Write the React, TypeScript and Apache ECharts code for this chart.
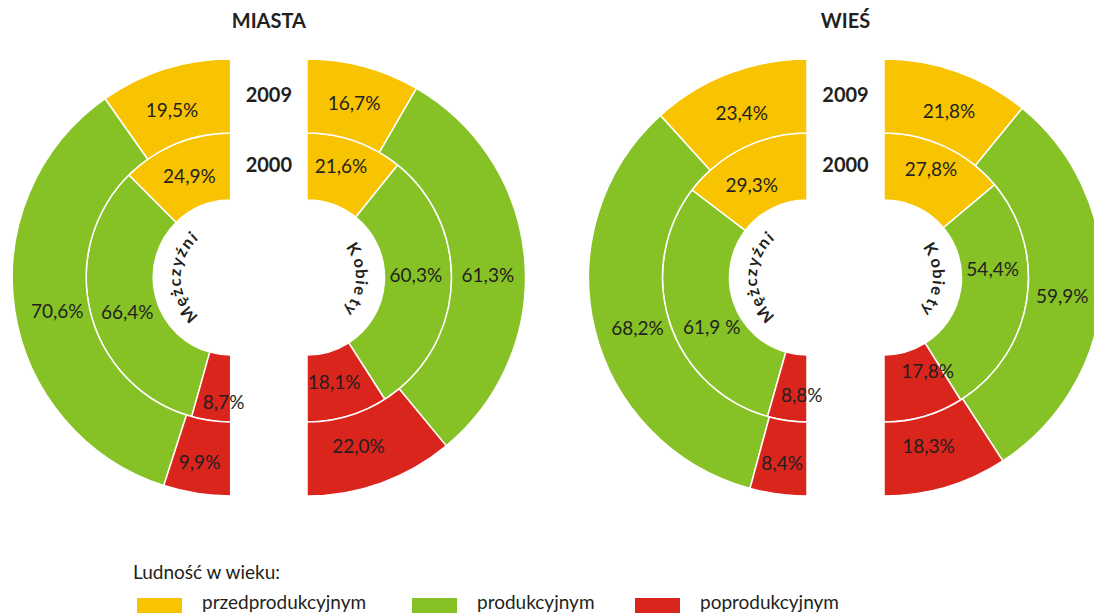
import React, { useEffect, useRef } from "react";
import * as echarts from "echarts";

// ---- data ----
const categories = ["przedprodukcyjnym", "produkcyjnym", "poprodukcyjnym"];
const panelTitles = ["MIASTA", "WIEŚ"];
const yearLabels = ["2009", "2000"];
const sexLabels = ["Mężczyźni", "Kobiety"];
const legendTitle = "Ludność w wieku:";

// MIASTA
const miastaMen2009 = [19.5, 70.6, 9.9];
const miastaMen2000 = [24.9, 66.4, 8.7];
const miastaWomen2009 = [16.7, 61.3, 22.0];
const miastaWomen2000 = [21.6, 60.3, 18.1];
// WIEŚ
const wiesMen2009 = [23.4, 68.2, 8.4];
const wiesMen2000 = [29.3, 61.9, 8.8];
const wiesWomen2009 = [21.8, 59.9, 18.3];
const wiesWomen2000 = [27.8, 54.4, 17.8];
// label text as printed (one label carries a space before %)
const wiesMen2000Labels = ["29,3%", "61,9 %", "8,8%"];

// ---- style / layout ----
const colors = ["#F8C300", "#86C226", "#DA251D"];
const textColor = "#231F20";
const FONT = "Lato, 'Open Sans', sans-serif";
const CY = 277.5;
const R_HOLE = 77.5;
const R_MID = 144.5;
const R_OUT = 218.5;
const panels = [
  { menX: 230.7, womenX: 307 },
  { menX: 807, womenX: 884 },
];
// manual label nudges [dx, dy] (the source places some labels off-centre)
const nudges = {
  miasta: {
    men2000: [[1, 1], [4, 6], [8, 14]],
    men2009: [[-4, 5], [6, 6], [-3, 5]],
    women2000: [[-3, -7], [-2, -9], [-4, -3]],
    women2009: [[0, 0], [0, 12], [-10, -3]],
  },
  wies: {
    men2000: [[-6, 6], [10, 14], [10, 7]],
    men2009: [[0, 4], [7, 8], [-1, 5]],
    women2000: [[0, -8], [-1, -26], [13, -14]],
    women2009: [[4, 4], [-3, 8], [-7, -6]],
  },
};

const fmt = (v: number) => v.toFixed(1).replace(".", ",") + "%";

function half(values: number[], cx: number, clockwise: boolean, inner: number, outer: number) {
  const sum = values.reduce((a, b) => a + b, 0);
  return {
    type: "pie",
    z: 1,
    center: [cx, CY],
    radius: [inner, outer],
    startAngle: 90,
    clockwise,
    silent: true,
    avoidLabelOverlap: false,
    animation: false,
    label: { show: false },
    labelLine: { show: false },
    emphasis: { disabled: true },
    itemStyle: { borderColor: "#ffffff", borderWidth: 1.5 },
    data: [
      ...values.map((v, i) => ({
        name: categories[i],
        value: v,
        itemStyle: { color: colors[i] },
      })),
      {
        name: "_rest",
        value: sum,
        itemStyle: { color: "rgba(0,0,0,0)", borderWidth: 0 },
      },
    ],
  };
}

function placeText(text: string, x: number, y: number, size: number, bold: boolean, align = "center", rotation = 0) {
  return {
    type: "text",
    x,
    y,
    z: 100,
    rotation,
    silent: true,
    style: {
      text,
      fill: textColor,
      fontSize: size,
      fontWeight: bold ? "bold" : "normal",
      fontFamily: FONT,
      align,
      verticalAlign: "middle",
      textAlign: align,
      textVerticalAlign: "middle",
    },
  };
}

// segment labels placed at the mid-angle / mid-radius of each sector (same geometry as the pie)
function halfLabels(
  values: number[],
  labels: string[] | null,
  nudge: number[][],
  cx: number,
  clockwise: boolean,
  inner: number,
  outer: number
) {
  const sum = values.reduce((a, b) => a + b, 0);
  const rm = (inner + outer) / 2;
  const side = clockwise ? 1 : -1;
  let cum = 0;
  return values.map((v, i) => {
    const a = ((cum + v / 2) / sum) * Math.PI;
    cum += v;
    const x = cx + side * rm * Math.sin(a) + nudge[i][0];
    const y = CY - rm * Math.cos(a) + nudge[i][1];
    return placeText(labels ? labels[i] : fmt(v), x, y, 19, false);
  });
}

let measureCtx: CanvasRenderingContext2D | null = null;
function textWidth(t: string, font: string) {
  if (!measureCtx) measureCtx = document.createElement("canvas").getContext("2d");
  if (!measureCtx) return t.length * 9;
  measureCtx.font = font;
  return measureCtx.measureText(t).width;
}

function arcText(
  text: string,
  cx: number,
  cy: number,
  r: number,
  midDeg: number,
  fontSize: number,
  spacing: number,
  extra: number[]
) {
  const font = `bold ${fontSize}px Lato`;
  const chars = Array.from(text);
  const widths = chars.map((c) => textWidth(c, font));
  const gaps = chars.map((_, i) => (i < chars.length - 1 ? spacing + (extra[i] || 0) : 0));
  const total = widths.reduce((a, b) => a + b, 0) + gaps.reduce((a, b) => a + b, 0);
  const mid = (midDeg * Math.PI) / 180;
  let cum = 0;
  return chars.map((c, i) => {
    const pos = cum + widths[i] / 2;
    cum += widths[i] + gaps[i];
    const th = mid + (total / 2 - pos) / r;
    return placeText(c, cx + r * Math.cos(th), cy - r * Math.sin(th), fontSize, true, "center", th - Math.PI / 2);
  });
}

function buildOption() {
  const ringData = [
    {
      men: [miastaMen2000, miastaMen2009],
      women: [miastaWomen2000, miastaWomen2009],
      menLabels: [null, null],
      n: nudges.miasta,
    },
    {
      men: [wiesMen2000, wiesMen2009],
      women: [wiesWomen2000, wiesWomen2009],
      menLabels: [wiesMen2000Labels, null],
      n: nudges.wies,
    },
  ];
  const series: any[] = [];
  const graphics: any[] = [];
  panels.forEach((p, k) => {
    const d = ringData[k];
    series.push(half(d.men[0], p.menX, false, R_HOLE, R_MID));
    series.push(half(d.men[1], p.menX, false, R_MID, R_OUT));
    series.push(half(d.women[0], p.womenX, true, R_HOLE, R_MID));
    series.push(half(d.women[1], p.womenX, true, R_MID, R_OUT));
    graphics.push(...halfLabels(d.men[0], d.menLabels[0], d.n.men2000, p.menX, false, R_HOLE, R_MID));
    graphics.push(...halfLabels(d.men[1], d.menLabels[1], d.n.men2009, p.menX, false, R_MID, R_OUT));
    graphics.push(...halfLabels(d.women[0], null, d.n.women2000, p.womenX, true, R_HOLE, R_MID));
    graphics.push(...halfLabels(d.women[1], null, d.n.women2009, p.womenX, true, R_MID, R_OUT));
    const midX = (p.menX + p.womenX) / 2;
    graphics.push(placeText(panelTitles[k], midX, 20, 20, true));
    graphics.push(placeText(yearLabels[0], midX, 94, 20, true));
    graphics.push(placeText(yearLabels[1], midX, 164, 20, true));
    graphics.push(...arcText(sexLabels[0], p.menX, CY, 56, 180, 16.5, 2.5, []));
    graphics.push(...arcText(sexLabels[1], p.womenX, CY, 55, -2, 16.5, 2, [3, 0, 0, 0, 3]));
  });
  graphics.push(placeText(legendTitle, 133, 571, 19, false, "left"));

  const legendLefts = [135, 410, 633];
  const legend = categories.map((c, i) => ({
    data: [c],
    left: legendLefts[i],
    top: 596,
    padding: 0,
    icon: "rect",
    itemWidth: 47,
    itemHeight: 20,
    selectedMode: false,
    formatter: () => "",
  }));
  categories.forEach((c, i) => {
    graphics.push(placeText(c, legendLefts[i] + 67, 601, 19, false, "left"));
  });

  return {
    animation: false,
    backgroundColor: "#ffffff",
    legend,
    series,
    graphic: { elements: graphics },
  };
}

export default function App() {
  const ref = useRef<HTMLDivElement>(null);
  useEffect(() => {
    if (!ref.current) return;
    const chart = echarts.init(ref.current, undefined, { renderer: "svg" });
    chart.setOption(buildOption() as any);
    return () => chart.dispose();
  }, []);
  return (
    <div
      ref={ref}
      style={{ position: "fixed", left: 0, top: 0, width: 1094, height: 613, background: "#fff" }}
    />
  );
}
